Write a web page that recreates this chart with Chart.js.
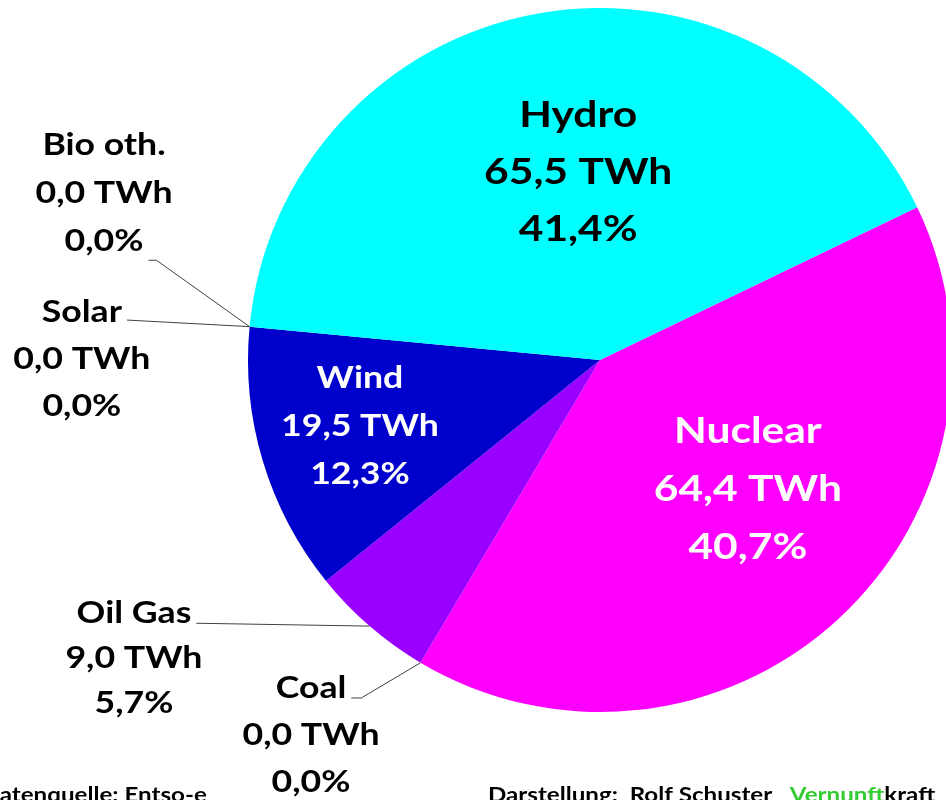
<!DOCTYPE html>
<html>
<head>
<meta charset="utf-8">
<script src="https://cdn.jsdelivr.net/npm/chart.js@4.4.0/dist/chart.umd.min.js"></script>
<style>
  html, body { margin: 0; padding: 0; background: #fff; overflow: hidden; }
  #wrap { width: 960px; height: 800px; }
</style>
</head>
<body>
<div id="wrap"><canvas id="pieChart" width="960" height="800"></canvas></div>
<script>
// data (TWh), clockwise from the Hydro/Nuclear boundary
const categorias = ["Nuclear", "Coal", "Oil Gas", "Wind", "Solar", "Bio oth.", "Hydro"];
const valoresTWh = [64.4, 0.0, 9.0, 19.5, 0.0, 0.0, 65.5];
const cores = ["#FF00FF", "#7F6000", "#9900FF", "#0000CC", "#FFFF00", "#00B050", "#00FFFF"];

// label placement, offsets from pie centre in units of radius
const rotuloPos = {
  "Nuclear":  { dx: 0.420,  dy: 0.364,  size: 37, gap: 58, color: "#fff" },
  "Hydro":    { dx: -0.062, dy: -0.537, size: 37, gap: 57, color: "#000" },
  "Wind":     { dx: -0.682, dy: 0.185,  size: 31, gap: 48, color: "#fff" },
  "Oil Gas":  { dx: -1.324, dy: 0.844,  size: 31, gap: 45, color: "#000", leader: { line: 0, dy: 0, hook: 0 } },
  "Coal":     { dx: -0.821, dy: 1.062,  size: 31, gap: 47, color: "#000", leader: { line: 0, dy: 0, hook: 10 } },
  "Solar":    { dx: -1.472, dy: -0.006, size: 31, gap: 47, color: "#000", leader: { line: 0, dy: -2, hook: 0 } },
  "Bio oth.": { dx: -1.409, dy: -0.477, size: 31, gap: 48, color: "#000", leader: { line: 2, dy: 9, hook: 8 } },
};
const esticar = 1.15; // horizontal stretch of text

const fmt = (v) => v.toFixed(1).replace(".", ",");
const total = valoresTWh.reduce((a, b) => a + b, 0);

function textoEsticado(ctx, t, x, y, align) {
  ctx.save();
  ctx.translate(x, y);
  ctx.scale(esticar, 1);
  ctx.textAlign = align || "center";
  ctx.fillText(t, 0, 0);
  ctx.restore();
}

const rotulos = {
  id: "rotulos",
  afterDraw(chart) {
    const ctx = chart.ctx;
    const meta = chart.getDatasetMeta(0);
    ctx.save();
    ctx.textBaseline = "alphabetic";
    meta.data.forEach((arc, i) => {
      const nome = categorias[i];
      const p = rotuloPos[nome];
      const r = arc.outerRadius;
      const cx = arc.x + p.dx * r;
      const cy = arc.y + p.dy * r;
      const linhas = [nome, fmt(valoresTWh[i]) + " TWh", fmt((valoresTWh[i] / total) * 100) + "%"];
      ctx.font = "bold " + p.size + "px Lato, 'Open Sans', sans-serif";
      ctx.fillStyle = p.color;
      const cap = p.size * 0.72;
      linhas.forEach((t, k) => {
        const base = cy + (k - 1) * p.gap + cap / 2;
        textoEsticado(ctx, t, cx, base);
      });
      if (p.leader) {
        const L = p.leader;
        const t = linhas[L.line];
        const w = ctx.measureText(t).width * esticar;
        const x0 = cx + w / 2 + 5;
        const y0 = cy + (L.line - 1) * p.gap + cap / 2 + L.dy;
        const ang = (arc.startAngle + arc.endAngle) / 2;
        const x1 = arc.x + r * Math.cos(ang);
        const y1 = arc.y + r * Math.sin(ang);
        ctx.beginPath();
        ctx.strokeStyle = "#404040";
        ctx.lineWidth = 1;
        ctx.moveTo(x0, y0);
        ctx.lineTo(x0 + L.hook, y0);
        ctx.lineTo(x1, y1);
        ctx.stroke();
      }
    });

    // footer
    ctx.font = "bold 21px Lato, 'Open Sans', sans-serif";
    ctx.fillStyle = "#000";
    const fonte = "Datenquelle: Entso-e";
    const wD = ctx.measureText("D").width * esticar;
    textoEsticado(ctx, fonte, -wD, 802, "left");
    let x = 488;
    const partes = [["Darstellung:  Rolf Schuster   ", "#000"], ["Vernunft", "#33CC33"], ["kraft", "#000"]];
    partes.forEach(([t, c]) => {
      ctx.fillStyle = c;
      textoEsticado(ctx, t, x, 802, "left");
      x += ctx.measureText(t).width * esticar;
    });
    ctx.restore();
  },
};

const ctx = document.getElementById("pieChart").getContext("2d");
new Chart(ctx, {
  type: "pie",
  data: {
    labels: categorias,
    datasets: [
      {
        data: valoresTWh,
        backgroundColor: cores,
        borderWidth: 0,
      },
    ],
  },
  options: {
    responsive: false,
    animation: false,
    events: [],
    rotation: 64.3,
    layout: { padding: { left: 248, right: 8, top: 8, bottom: 88 } },
    plugins: {
      legend: { display: false },
      tooltip: { enabled: false },
    },
  },
  plugins: [rotulos],
});
</script>
</body>
</html>
